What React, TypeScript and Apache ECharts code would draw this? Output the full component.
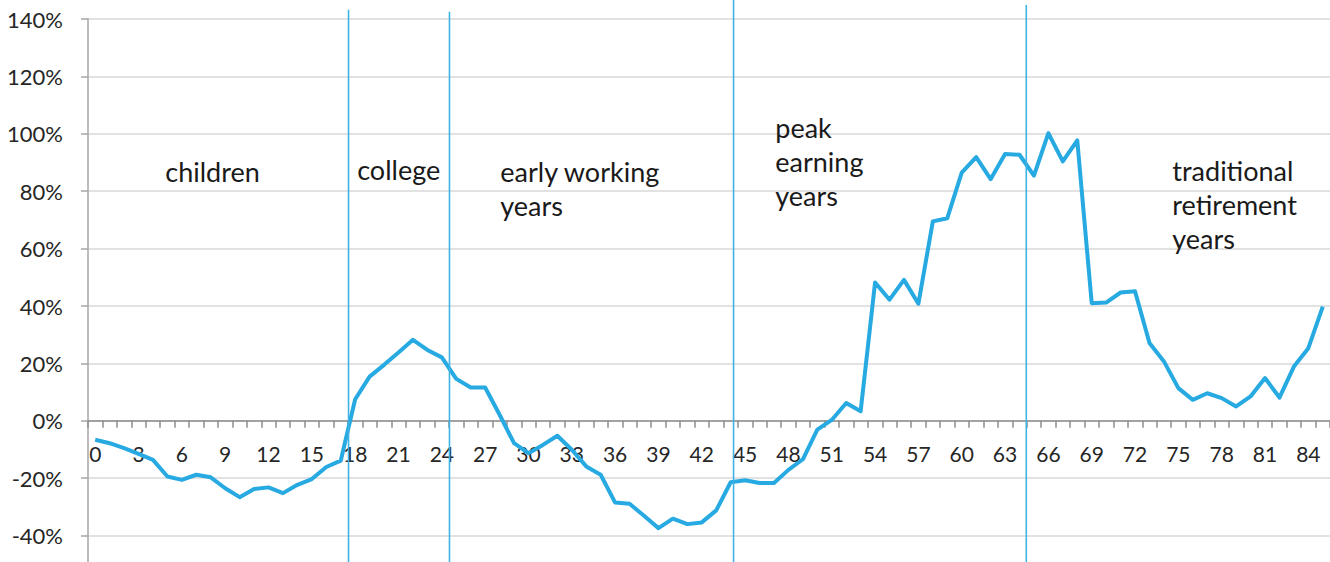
import React, { useEffect, useRef } from "react";
import * as echarts from "echarts";

const ages = [
  "0","1","2","3","4","5","6","7","8","9","10","11","12","13","14","15","16","17","18","19",
  "20","21","22","23","24","25","26","27","28","29","30","31","32","33","34","35","36","37","38","39",
  "40","41","42","43","44","45","46","47","48","49","50","51","52","53","54","55","56","57","58","59",
  "60","61","62","63","64","65","66","67","68","69","70","71","72","73","74","75","76","77","78","79",
  "80","81","82","83","84","85",
];

const values = [
  -6.6, -7.8, -9.5, -11.5, -13.6, -19.4, -20.6, -18.8, -19.7, -23.5,
  -26.6, -23.8, -23.2, -25.2, -22.3, -20.3, -16.1, -13.9, 7.5, 15.4,
  19.5, 23.8, 28.2, 24.7, 22.1, 14.6, 11.6, 11.6, 2.1, -7.8,
  -11.3, -8.4, -5.2, -10.1, -15.9, -18.8, -28.5, -28.9, -33.1, -37.4,
  -34.1, -36.0, -35.4, -31.2, -21.4, -20.7, -21.7, -21.7, -17.1, -13.4,
  -3.1, 0.3, 6.2, 3.3, 48.2, 42.2, 49.1, 40.8, 69.5, 70.6,
  86.5, 91.9, 84.2, 93.0, 92.7, 85.4, 100.2, 90.4, 97.7, 41.0,
  41.2, 44.7, 45.1, 27.1, 20.7, 11.4, 7.3, 9.6, 7.9, 5.0,
  8.5, 14.9, 8.1, 18.9, 25.3, 39.8,
];

// Phase dividers: fractional category position and top value
const dividerPos = [17.54, 24.53, 44.2, 64.47];
const dividerTop = [143.2, 142.5, 147, 144.9];

// Phase labels: anchor (category position, value at text top)
const phaseLabels = ["children", "college", "early working\nyears", "peak\nearning\nyears", "traditional\nretirement\nyears"];
const phaseX = [4.85, 18.14, 28.05, 47.09, 74.58];
const phaseY = [92.7, 93.4, 92.7, 108.0, 93.0];

const Y_MIN = -60;
const Y_MAX = 140;
const Y_STEP = 20;
const GRID_TOP = 19;
const GRID_HEIGHT = 574;

export default function App() {
  const ref = useRef<HTMLDivElement>(null);
  useEffect(() => {
    if (!ref.current) return;
    const chart = echarts.init(ref.current, null, { renderer: "svg" });
    const font = "Lato";
    // move the category axis up to the zero line
    const zeroOffset = -((0 - Y_MIN) / (Y_MAX - Y_MIN)) * GRID_HEIGHT;
    chart.setOption({
      animation: false,
      backgroundColor: "#ffffff",
      grid: { left: 88, right: 0, top: GRID_TOP, height: GRID_HEIGHT, outerBoundsMode: "none" },
      xAxis: {
        type: "category",
        data: ages,
        boundaryGap: true,
        position: "bottom",
        offset: zeroOffset,
        axisLine: { onZero: false, lineStyle: { color: "#8c8c8c", width: 1.5 } },
        axisTick: { show: true, interval: 0, length: 7, lineStyle: { color: "#8c8c8c", width: 1.5 } },
        axisLabel: { interval: 2, margin: 22, fontSize: 21, fontFamily: font, color: "#262626" },
        splitLine: { show: false },
      },
      yAxis: {
        type: "value",
        min: Y_MIN,
        max: Y_MAX,
        interval: Y_STEP,
        axisLine: { show: true, lineStyle: { color: "#a6a6a6", width: 1.5 } },
        axisTick: { show: true, length: 7, lineStyle: { color: "#a6a6a6", width: 1.5 } },
        axisLabel: {
          margin: 25,
          fontSize: 22,
          fontFamily: font,
          color: "#262626",
          formatter: (v: number) => (v < -50 ? "" : v + "%"),
        },
        splitLine: { show: true, lineStyle: { color: "#d9d9d9", width: 1.5 } },
      },
      series: [
        {
          type: "line",
          data: values,
          symbol: "none",
          lineStyle: { color: "#27a9e1", width: 4, join: "round" },
          z: 5,
        },
      ],
    });

    const px = (pos: number, val: number) => {
      const i0 = Math.floor(pos);
      const f = pos - i0;
      const a = chart.convertToPixel({ gridIndex: 0 }, [i0, val]) as number[];
      const b = chart.convertToPixel({ gridIndex: 0 }, [Math.min(i0 + 1, ages.length - 1), val]) as number[];
      return [a[0] + (b[0] - a[0]) * f, a[1]];
    };

    const graphics: any[] = [];
    dividerPos.forEach((p, k) => {
      const top = px(p, dividerTop[k]);
      const bot = px(p, Y_MIN);
      graphics.push({
        type: "line",
        z: 10,
        shape: { x1: top[0], y1: top[1], x2: bot[0], y2: bot[1] },
        style: { stroke: "#3db3e6", lineWidth: 1.6 },
      });
    });
    phaseLabels.forEach((t, k) => {
      const p = px(phaseX[k], phaseY[k]);
      graphics.push({
        type: "text",
        z: 10,
        x: p[0],
        y: p[1],
        style: {
          text: t,
          fontSize: 27,
          fontFamily: font,
          fill: "#1a1a1a",
          lineHeight: 34,
          align: "left",
          verticalAlign: "top",
        },
      });
    });
    chart.setOption({ graphic: graphics });

    return () => chart.dispose();
  }, []);
  return (
    <div
      ref={ref}
      style={{ position: "fixed", left: 0, top: 0, width: 1330, height: 600 }}
    />
  );
}
